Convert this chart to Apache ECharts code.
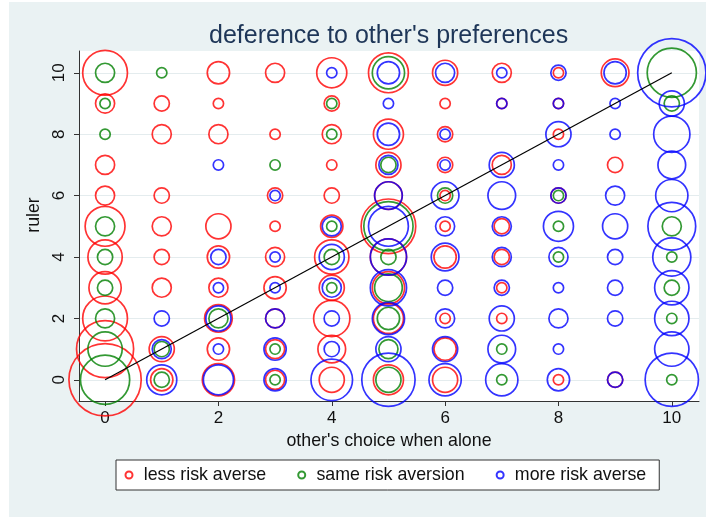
<!DOCTYPE html>
<html>
<head>
<meta charset="utf-8">
<script src="https://cdn.jsdelivr.net/npm/echarts@6/dist/echarts.min.js"></script>
<style>
  html, body { margin: 0; padding: 0; background: #ffffff; }
  #chart { width: 706px; height: 517px; }
</style>
</head>
<body>
<div id="chart"></div>
<script>
// Tick positions shared by both axes
const tickValues = [0, 2, 4, 6, 8, 10];

const seriesNames = ['less risk averse', 'same risk aversion', 'more risk averse'];

// Each point: [other's choice when alone, ruler's choice, number of cases]
const lessRiskAverse = [
  [0,10,15],[0,9,3],[0,7,3],[0,6,3],[0,5,12],[0,4,9],[0,3,8],[0,2,15],[0,1,24],[0,0,38],
  [1,9,2],[1,8,3],[1,6,2],[1,5,3],[1,4,2],[1,3,3],[1,1,5],[1,0,4],
  [2,10,4],[2,9,1],[2,8,3],[2,5,5],[2,4,4],[2,3,3],[2,2,6],[2,1,4],[2,0,8],
  [3,10,3],[3,8,1],[3,6,2],[3,5,1],[3,4,3],[3,3,4],[3,2,3],[3,1,3],[3,0,3],
  [4,10,7],[4,9,2],[4,8,3],[4,7,1],[4,6,2],[4,5,4],[4,4,9],[4,3,5],[4,2,10],[4,1,6],[4,0,5],
  [5,10,12],[5,8,7],[5,7,5],[5,6,6],[5,5,22],[5,4,10],[5,3,8],[5,2,7],[5,0,7],
  [6,10,5],[6,9,1],[6,8,2],[6,7,2],[6,6,1],[6,5,1],[6,4,4],[6,2,1],[6,1,4],[6,0,5],
  [7,10,3],[7,9,1],[7,7,3],[7,5,2],[7,4,2],[7,3,1],[7,2,1],
  [8,10,1],[8,9,1],[8,8,1],[8,6,2],[8,0,1],
  [9,10,6],[9,7,2],[9,0,2]
];

const sameRiskAversion = [
  [0,10,3],[0,9,1],[0,8,1],[0,5,3],[0,4,2],[0,3,2],[0,2,3],[0,1,9],[0,0,18],
  [1,10,1],[1,1,2],[1,0,2],
  [2,2,3],
  [3,7,1],[3,1,1],[3,0,1],
  [4,9,1],[4,8,1],[4,5,1],[4,4,2],[4,3,1],
  [5,10,8],[5,7,2],[5,5,18],[5,4,2],[5,3,6],[5,2,4],[5,1,3],[5,0,5],
  [6,6,2],
  [7,1,1],[7,0,1],
  [8,6,1],[8,5,1],[8,4,1],
  [10,10,18],[10,9,2],[10,5,3],[10,4,1],[10,3,2],[10,2,1],[10,0,1]
];

const moreRiskAverse = [
  [1,2,2],[1,1,3],[1,0,7],
  [2,7,1],[2,4,2],[2,3,1],[2,2,5],[2,1,1],[2,0,7],
  [3,6,1],[3,4,1],[3,3,1],[3,2,3],[3,1,4],[3,0,4],
  [4,10,1],[4,5,3],[4,4,5],[4,3,3],[4,2,2],[4,1,2],[4,0,13],
  [5,10,4],[5,9,1],[5,8,4],[5,7,3],[5,6,6],[5,5,12],[5,4,10],[5,3,10],[5,2,8],[5,1,5],[5,0,21],
  [6,10,3],[6,8,1],[6,7,1],[6,6,6],[6,5,3],[6,4,6],[6,3,2],[6,2,3],[6,1,5],[6,0,8],
  [7,10,1],[7,9,1],[7,7,5],[7,6,6],[7,5,3],[7,4,3],[7,3,2],[7,2,5],[7,1,6],[7,0,8],
  [8,10,2],[8,9,1],[8,8,5],[8,7,1],[8,6,2],[8,5,7],[8,4,3],[8,3,1],[8,2,3],[8,1,1],[8,0,4],
  [9,10,4],[9,9,1],[9,8,1],[9,6,3],[9,5,5],[9,4,2],[9,3,2],[9,2,2],[9,0,2],
  [10,10,34],[10,9,5],[10,8,10],[10,7,6],[10,6,8],[10,5,17],[10,4,11],[10,3,9],[10,2,9],[10,1,9],[10,0,21]
];

// Reference line where the ruler picks what the other would pick alone
const diagonal = [[0, 0], [10, 10]];

const colors = ['#ff0000', '#008000', '#0000ff'];
const ringWidth = 1.7;
const fontFamily = '"Liberation Sans", Arial, Helvetica, sans-serif';

// Bubble area proportional to the number of cases
function bubbleSize(val) {
  return 12 * Math.sqrt(val[2]) - ringWidth;
}

function bubbleSeries(name, data, color) {
  return {
    name: name,
    type: 'scatter',
    data: data,
    symbol: 'circle',
    symbolSize: bubbleSize,
    itemStyle: { color: 'rgba(0,0,0,0)', borderColor: color, borderWidth: ringWidth },
    emphasis: { disabled: true },
    z: 3
  };
}

const chart = echarts.init(document.getElementById('chart'), null, { renderer: 'canvas' });

chart.setOption({
  animation: false,
  backgroundColor: '#ffffff',
  graphic: [{
    type: 'rect',
    z: -10,
    silent: true,
    shape: { x: 9, y: 2, width: 697, height: 515 },
    style: { fill: '#eaf2f3' }
  }],
  title: {
    text: "deference to other's preferences",
    left: 204,
    top: 19,
    textStyle: { fontFamily: fontFamily, fontSize: 25, fontWeight: 'normal', color: '#1e3658' }
  },
  grid: {
    left: 79, top: 51, width: 620, height: 350,
    show: true, backgroundColor: '#ffffff', borderWidth: 0
  },
  legend: {
    data: seriesNames,
    left: 116,
    top: 460,
    orient: 'horizontal',
    backgroundColor: '#ffffff',
    borderColor: '#333333',
    borderWidth: 1,
    borderRadius: 0,
    padding: [6, 13, 6, 8.5],
    itemGap: 31,
    itemWidth: 7,
    itemHeight: 7,
    icon: 'circle',
    selectedMode: false,
    textStyle: { fontFamily: fontFamily, fontSize: 17.8, color: '#111111', padding: [0, 0, 0, 6.2] }
  },
  xAxis: {
    type: 'value',
    min: -0.46,
    max: 10.48,
    name: "other's choice when alone",
    nameLocation: 'middle',
    nameGap: 27,
    nameTextStyle: { fontFamily: fontFamily, fontSize: 17.8, color: '#111111' },
    axisLine: { show: true, onZero: false, lineStyle: { color: '#333333', width: 1 } },
    axisTick: { show: true, length: 5, customValues: tickValues, lineStyle: { color: '#333333' } },
    axisLabel: { customValues: tickValues, margin: 9, fontFamily: fontFamily, fontSize: 17, color: '#111111' },
    splitLine: { show: false }
  },
  yAxis: {
    type: 'value',
    min: -0.69,
    max: 10.71,
    name: 'ruler',
    nameLocation: 'middle',
    nameGap: 32,
    nameRotate: 90,
    nameTextStyle: { fontFamily: fontFamily, fontSize: 17.8, color: '#111111', padding: [0, 0, 0, 22] },
    axisLine: { show: true, onZero: false, lineStyle: { color: '#333333', width: 1 } },
    axisTick: { show: true, length: 5, customValues: tickValues, lineStyle: { color: '#333333' } },
    axisLabel: { customValues: tickValues, rotate: 90, margin: 11, fontFamily: fontFamily, fontSize: 17, color: '#111111' },
    splitLine: { show: true, lineStyle: { color: '#e4ecee', width: 1 } }
  },
  series: [
    bubbleSeries(seriesNames[0], lessRiskAverse, colors[0]),
    bubbleSeries(seriesNames[1], sameRiskAversion, colors[1]),
    bubbleSeries(seriesNames[2], moreRiskAverse, colors[2]),
    {
      type: 'line',
      data: diagonal,
      symbol: 'none',
      lineStyle: { color: '#000000', width: 1.2 },
      emphasis: { disabled: true },
      z: 5
    }
  ]
});
</script>
</body>
</html>
